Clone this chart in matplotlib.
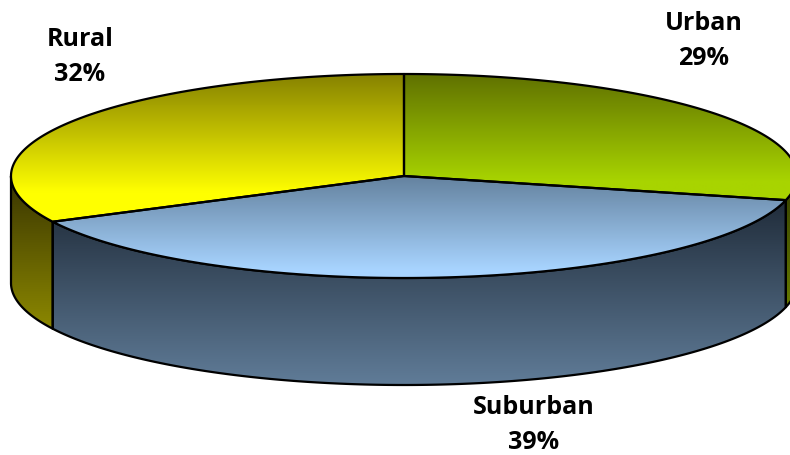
import numpy as np
import matplotlib
matplotlib.use("Agg")
import matplotlib.pyplot as plt
from matplotlib.patches import Polygon

labels = ["Urban", "Suburban", "Rural"]
shares = [28.8, 38.8, 32.4]
top_colors = [("#5f7000", "#a8d400"), ("#64829f", "#a8d4ff"), ("#868200", "#ffff00")]
side_colors = [("#343e00", "#667a00"), ("#202c3a", "#607c98"), ("#383400", "#8c8800")]
# how far down each top face its gradient runs before going flat
top_stop = [0.85, 0.92, 0.8]

cx, cy = 404, 176
rx, ry = 393, 102
depth = 107


def rim(t):
    return np.column_stack([cx + rx * np.sin(t), cy - ry * np.cos(t)])


def gradient(ax, poly, c1, c2, stop=1.0):
    xs, ys = poly.get_xy().T
    a = np.array(matplotlib.colors.to_rgb(c1))
    b = np.array(matplotlib.colors.to_rgb(c2))
    f = np.clip(np.linspace(0, 1, 256) / stop, 0, 1)[:, None]
    img = (a + (b - a) * f)[:, None, :]
    im = ax.imshow(img, extent=[xs.min(), xs.max(), ys.max(), ys.min()],
                   aspect="auto", interpolation="bilinear", zorder=poly.get_zorder())
    im.set_clip_path(poly)


fig = plt.figure(figsize=(7.9, 4.55), dpi=100)
ax = fig.add_axes([0, 0, 1, 1])

edges = np.radians(np.cumsum([0] + shares) * 3.6)

# side walls, only the front half of the rim shows
for i in range(3):
    t0 = max(edges[i], np.pi / 2)
    t1 = min(edges[i + 1], np.pi * 1.5)
    t = np.linspace(t0, t1, 200)
    upper = rim(t)
    lower = upper[::-1] + [0, depth]
    pts = np.vstack([upper, lower])
    poly = Polygon(pts, closed=True, facecolor="none", edgecolor="black", lw=1.6,
                   joinstyle="round", zorder=2)
    ax.add_patch(poly)
    gradient(ax, poly, *side_colors[i])
    poly.set_zorder(3)

# top surface
for i in range(3):
    t = np.linspace(edges[i], edges[i + 1], 300)
    pts = np.vstack([[cx, cy], rim(t)])
    poly = Polygon(pts, closed=True, facecolor="none", edgecolor="black", lw=1.6,
                   joinstyle="round", zorder=4)
    ax.add_patch(poly)
    gradient(ax, poly, *top_colors[i], stop=top_stop[i])
    poly.set_zorder(5)

label_pos = [(704, 41), (534, 425), (80, 57)]
for name, share, (x, y) in zip(labels, shares, label_pos):
    ax.text(x, y, f"{name}\n{share:.0f}%", ha="center", va="center", family="Open Sans",
            fontweight="bold", fontsize=18, linespacing=1.5, color="black", zorder=6)

ax.set_xlim(0, 790)
ax.set_ylim(455, 0)
ax.axis("off")
fig.savefig("out.png", dpi=100, facecolor="white")
